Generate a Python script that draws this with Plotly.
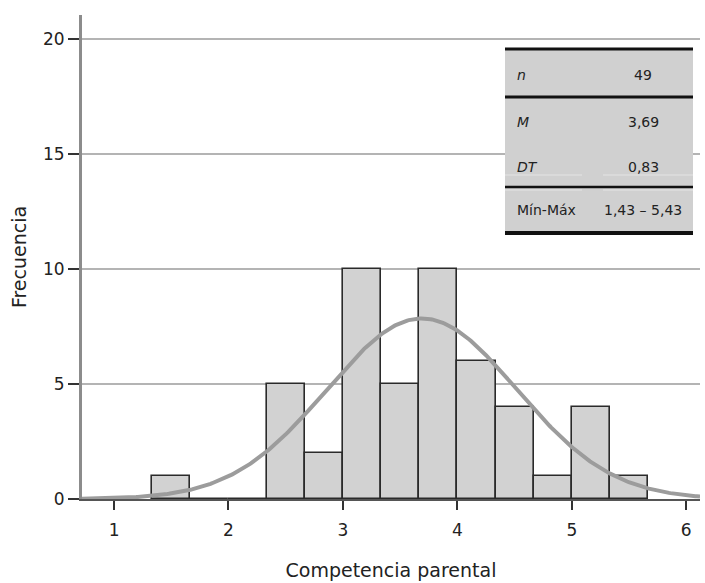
import numpy as np
import plotly.graph_objects as go

# ---- data ----
bin_left = [1.3333, 1.6667, 2.0, 2.3333, 2.6667, 3.0, 3.3333, 3.6667, 4.0, 4.3333, 4.6667, 5.0, 5.3333]
counts = [1, 0, 0, 5, 2, 10, 5, 10, 6, 4, 1, 4, 1]
bin_width = 1 / 3
n_obs = 49
mean_val = 3.69
sd_val = 0.83
x_ticks = [1, 2, 3, 4, 5, 6]
y_ticks = [0, 5, 10, 15, 20]
table_labels = ["n", "M", "DT", "Mín-Máx"]
table_values = ["49", "3,69", "0,83", "1,43 – 5,43"]
table_italic = [True, True, True, False]

W, H = 705, 583
ML, MR, MT, MB = 82, 5, 15, 84
PW, PH = W - ML - MR, H - MT - MB


def px(xp):
    return (xp - ML) / PW


def py(yp):
    return (H - MB - yp) / PH


centers = [b + bin_width / 2 for b in bin_left]

xr = [0.72, 6.12]
xs = np.linspace(xr[0], xr[1], 400)
ys = n_obs * bin_width / (sd_val * np.sqrt(2 * np.pi)) * np.exp(-0.5 * ((xs - mean_val) / sd_val) ** 2)

fig = go.Figure()
fig.add_trace(go.Bar(
    x=centers, y=counts, width=bin_width,
    marker=dict(color="#d2d2d2", line=dict(color="#2a2a2a", width=1.6)),
    showlegend=False, hoverinfo="skip",
))
fig.add_trace(go.Scatter(
    x=xs, y=ys, mode="lines",
    line=dict(color="#9c9c9c", width=4),
    showlegend=False, hoverinfo="skip",
))

font_main = "DejaVu Sans, Liberation Sans, Arial, sans-serif"

fig.update_layout(
    width=W, height=H,
    margin=dict(l=ML, r=MR, t=MT, b=MB, autoexpand=False),
    paper_bgcolor="white", plot_bgcolor="white",
    bargap=0,
    font=dict(family=font_main, color="#222222"),
    xaxis=dict(
        range=xr, tickvals=x_ticks, ticktext=[str(v) for v in x_ticks],
        showgrid=False, zeroline=False,
        showline=True, linecolor="#555555", linewidth=2,
        ticks="outside", ticklen=9, tickwidth=2, tickcolor="#333333",
        ticklabelstandoff=6,
        tickfont=dict(size=17, color="#222222"),
        title=dict(text="Competencia parental", font=dict(size=19, color="#222222"), standoff=24),
    ),
    yaxis=dict(
        range=[0, PH / 23.0], tickvals=y_ticks, ticktext=[str(v) for v in y_ticks],
        showgrid=True, gridcolor="#b4b4b4", gridwidth=1.5,
        zeroline=False,
        showline=True, linecolor="#8c8c8c", linewidth=3,
        ticks="outside", ticklen=11, tickwidth=2, tickcolor="#333333",
        tickfont=dict(size=17, color="#222222"),
        title=dict(text="Frecuencia", font=dict(size=19, color="#222222"), standoff=12),
    ),
)

# ---- inset table ----
tx0, tx1 = 505, 693
shapes = []
shapes.append(dict(type="rect", xref="paper", yref="paper",
                   x0=px(tx0), x1=px(tx1), y0=py(233), y1=py(49),
                   fillcolor="#d0d0d0", line=dict(width=0), layer="above"))
# faint separators
for yy in [175, 190]:
    for (a, b) in [(tx0, 582), (603, tx1)]:
        shapes.append(dict(type="line", xref="paper", yref="paper",
                           x0=px(a), x1=px(b), y0=py(yy), y1=py(yy),
                           line=dict(color="#e4e4e4", width=1), layer="above"))
# thick rules
for yy, w in [(49, 3), (97, 3), (187, 2.5), (233, 4)]:
    shapes.append(dict(type="line", xref="paper", yref="paper",
                       x0=px(tx0), x1=px(tx1), y0=py(yy), y1=py(yy),
                       line=dict(color="#111111", width=w), layer="above"))
fig.update_layout(shapes=shapes)

row_y = [75, 122, 167, 210]
annotations = []
for lab, val, it, yy in zip(table_labels, table_values, table_italic, row_y):
    annotations.append(dict(
        x=px(515), y=py(yy), xref="paper", yref="paper",
        text=f"<i>{lab}</i>" if it else lab, showarrow=False,
        xanchor="left", yanchor="middle",
        font=dict(size=14, color="#222222", family=font_main)))
    annotations.append(dict(
        x=px(643), y=py(yy), xref="paper", yref="paper",
        text=val, showarrow=False, xanchor="center", yanchor="middle",
        font=dict(size=14, color="#222222", family=font_main)))
fig.update_layout(annotations=annotations)

fig.write_html("out.html")
